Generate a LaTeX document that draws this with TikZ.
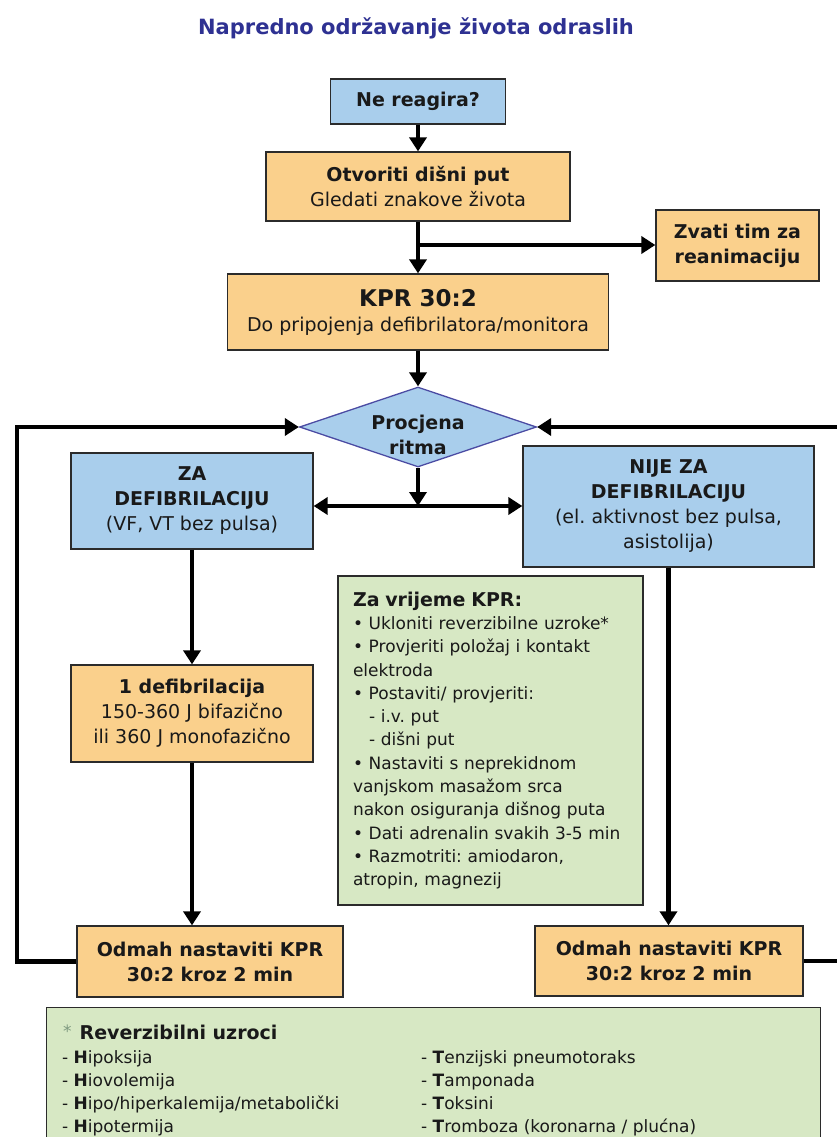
\documentclass[tikz,border=0pt]{standalone}
\usepackage{fontspec}
\setmainfont{DejaVu Sans}
\frenchspacing
\usetikzlibrary{shapes.geometric,arrows.meta}
\definecolor{narancasta}{HTML}{FAD08C}
\definecolor{plava}{HTML}{A9CEEC}
\definecolor{zelena}{HTML}{D7E8C4}
\definecolor{rub}{HTML}{2B2B2B}
\definecolor{naslovna}{HTML}{2E3192}
\definecolor{rombrub}{HTML}{4B4BA3}
\definecolor{zvjezdica}{HTML}{7F9A80}
\tikzset{every node/.style={inner sep=0pt,text=black!90}}
\tikzset{box/.style={rectangle,draw=rub,line width=1.3pt,align=center,font=\fontsize{19}{25}\selectfont}}
\tikzset{korak/.style={box,fill=narancasta}}
\tikzset{stanje/.style={box,fill=plava}}
\tikzset{biljeska/.style={rectangle,draw=rub,line width=1.3pt,fill=zelena}}
\tikzset{romb/.style={diamond,draw=rombrub,line width=1.3pt,fill=plava,minimum width=237pt,minimum height=80pt}}
\tikzset{tok/.style={line width=4.5pt,-{Triangle[length=14pt,width=17pt]}}}
\tikzset{dvosmjer/.style={line width=4.5pt,{Triangle[length=14pt,width=17pt]}-{Triangle[length=14pt,width=17pt]}}}

\begin{document}
\begin{tikzpicture}[x=1pt,y=-1pt]
  \useasboundingbox (0,0) rectangle (837,1137);
  \node[font=\bfseries\fontsize{21}{25}\selectfont,text=naslovna] (naslov) at (416,28) {Napredno održavanje života odraslih};
  \node[stanje,font=\bfseries\fontsize{19}{25}\selectfont,minimum width=175pt,minimum height=45pt] (ne) at (418,101.5) {Ne reagira?};
  \node[korak,minimum width=304pt,minimum height=69pt] (otvori) at (418,186.5) {\textbf{Otvoriti dišni put}\\Gledati znakove života};
  \node[korak,font=\bfseries\fontsize{19}{25}\selectfont,minimum width=163pt,minimum height=71pt] (zvati) at (737.5,245.5) {Zvati tim za\\reanimaciju};
  \node[korak,minimum width=381pt,minimum height=76pt] (kpr) at (418,312) {{\bfseries\fontsize{23}{28}\selectfont KPR 30:2}\\Do pripojenja defibrilatora/monitora};
  \node[romb] (ritam) at (418,427) {};
  \node[font=\bfseries\fontsize{19}{25}\selectfont,align=center] (ritamtekst) at (418,435) {Procjena\\ritma};
  \node[stanje,minimum width=242pt,minimum height=96pt] (zadef) at (192,501) {\textbf{ZA}\\\textbf{DEFIBRILACIJU}\\(VF, VT bez pulsa)};
  \node[stanje,minimum width=291pt,minimum height=121pt] (nije) at (668.5,506.5) {\textbf{NIJE ZA}\\\textbf{DEFIBRILACIJU}\\(el. aktivnost bez pulsa,\\asistolija)};
  \node[korak,minimum width=242pt,minimum height=97pt] (defib) at (192,713.5) {\textbf{1 defibrilacija}\\150-360 J bifazično\\ili 360 J monofazično};
  \node[biljeska,minimum width=305pt,minimum height=329pt,text width=275pt,align=left,font=\fontsize{17}{23.3}\selectfont] (napomena) at (490.5,740.5) {{\bfseries\fontsize{19}{25}\selectfont Za vrijeme KPR:}\\
    • Ukloniti reverzibilne uzroke*\\
    • Provjeriti položaj i kontakt\\
    elektroda\\
    • Postaviti/ provjeriti:\\
    \hspace*{16pt}- i.v. put\\
    \hspace*{16pt}- dišni put\\
    • Nastaviti s neprekidnom\\
    vanjskom masažom srca\\
    nakon osiguranja dišnog puta\\
    • Dati adrenalin svakih 3-5 min\\
    • Razmotriti: amiodaron,\\
    atropin, magnezij};
  \node[korak,font=\bfseries\fontsize{19}{25}\selectfont,minimum width=266pt,minimum height=71pt] (odmahL) at (210,961.5) {Odmah nastaviti KPR\\30:2 kroz 2 min};
  \node[korak,font=\bfseries\fontsize{19}{25}\selectfont,minimum width=268pt,minimum height=70pt] (odmahR) at (669,961) {Odmah nastaviti KPR\\30:2 kroz 2 min};
  \node[biljeska,minimum width=774pt,minimum height=170pt,anchor=north west] (uzroci) at (46,1007) {};
  \node[anchor=base west,font=\bfseries\fontsize{19}{25}\selectfont] (uzrocinaslov) at (63,1039) {\textcolor{zvjezdica}{\mdseries\fontsize{17}{17}\selectfont\raisebox{2pt}{*}}\hspace{8pt}Reverzibilni uzroci};
  \node[anchor=north west,align=left,font=\fontsize{17}{23}\selectfont] (lijevi) at (62,1050) {- \textbf{H}ipoksija\\- \textbf{H}iovolemija\\- \textbf{H}ipo/hiperkalemija/metabolički\\- \textbf{H}ipotermija};
  \node[anchor=north west,align=left,font=\fontsize{17}{23}\selectfont] (desni) at (421,1050) {- \textbf{T}enzijski pneumotoraks\\- \textbf{T}amponada\\- \textbf{T}oksini\\- \textbf{T}romboza (koronarna / plućna)};
  \coordinate (grana) at (418,245);
  \coordinate (spoj) at (418,506);
  \coordinate (lijevo) at (17,427);
  \coordinate (desno) at (840,427);
    \draw[tok] (ne.south) -- (otvori.north);
    \draw[tok] (otvori.south) -- (kpr.north);
    \draw[tok] (grana) -- (grana -| zvati.west);
    \draw[tok] (kpr.south) -- (ritam.north);
    \draw[tok] (ritam.south) -- (spoj);
    \draw[dvosmjer] (spoj -| zadef.east) -- (spoj -| nije.west);
    \draw[tok] (zadef.south) -- (defib.north);
    \draw[tok] (defib.south) -- (defib.south |- odmahL.north);
    \draw[tok] (nije.south) -- (nije.south |- odmahR.north);
    \draw[tok] (odmahL.west) -| (lijevo) -- (ritam.west);
    \draw[tok] (odmahR.east) -| (desno) -- (ritam.east);
\end{tikzpicture}
\end{document}
